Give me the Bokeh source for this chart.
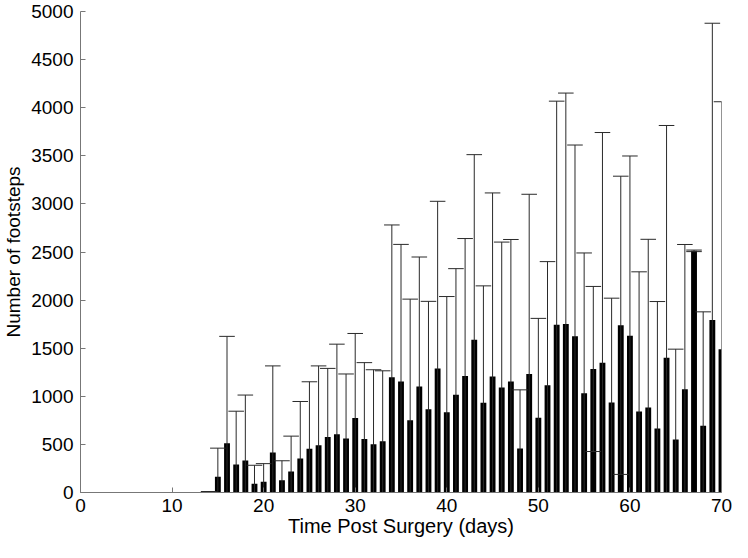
from bokeh.plotting import figure
from bokeh.models import ColumnDataSource, FixedTicker, Range1d
from bokeh.embed import file_html
from bokeh.resources import INLINE

# ---- data ----
days = list(range(14, 71))
mean_steps = [10, 165, 512, 290, 333, 91, 111, 417, 128, 219,
              354, 455, 492, 576, 606, 562, 774, 555, 502, 533,
              1199, 1155, 751, 1101, 865, 1290, 835, 1017, 1212, 1589,
              933, 1205, 1091, 1155, 458, 1232, 778, 1114, 1745, 1751,
              1623, 1033, 1284, 1348, 935, 1738, 1629, 843, 884, 665,
              1400, 550, 1074, 2512, 694, 1792, 1490]
sd_steps = [0, 296, 1111, 555, 680, 192, 189, 899, 202, 367,
            592, 696, 824, 714, 936, 670, 879, 795, 774, 732,
            1582, 1424, 1259, 1347, 1122, 1737, 1202, 1310, 1428, 1923,
            1215, 1909, 1512, 1475, 609, 1868, 1032, 1286, 2323, 2401,
            1989, 1457, 858, 2394, 1085, 1550, 1869, 1451, 1748, 1320,
            2415, 940, 1504, 8, 1184, 3086, 2572]
x_ticks = [0, 10, 20, 30, 40, 50, 60, 70]
y_ticks = [0, 500, 1000, 1500, 2000, 2500, 3000, 3500, 4000, 4500, 5000]
x_title = "Time Post Surgery (days)"
y_title = "Number of footsteps"

cap_half = 0.85
upper = [m + s for m, s in zip(mean_steps, sd_steps)]
lower = [m - s for m, s in zip(mean_steps, sd_steps)]
src = ColumnDataSource(dict(
    day=days, mean=mean_steps, upper=upper, lower=lower,
    cap_l=[d - cap_half for d in days], cap_r=[d + cap_half for d in days],
))

FONT = "Liberation Sans"

p = figure(width=732, height=542, x_range=Range1d(0, 70), y_range=Range1d(0, 5000),
           output_backend="svg", toolbar_location=None,
           min_border_left=79, min_border_right=11, min_border_top=11, min_border_bottom=50)
p.outline_line_color = None
p.xgrid.visible = False
p.ygrid.visible = False
p.background_fill_color = "white"

p.vbar(x="day", top="mean", bottom=0, width=0.64, source=src,
       fill_color="black", line_color=None)

ecol = "#2a2a2a"
p.segment(x0="day", y0="lower", x1="day", y1="upper", source=src, line_color=ecol, line_width=1)
p.segment(x0="cap_l", y0="upper", x1="cap_r", y1="upper", source=src, line_color=ecol, line_width=1)
p.segment(x0="cap_l", y0="lower", x1="cap_r", y1="lower", source=src, line_color=ecol, line_width=1)

for ax in (p.xaxis[0], p.yaxis[0]):
    ax.axis_line_color = "#777777"
    ax.major_tick_line_color = "#777777"
    ax.major_tick_in = 5
    ax.major_tick_out = 0
    ax.minor_tick_in = 0
    ax.minor_tick_out = 0
    ax.major_label_text_font = FONT
    ax.major_label_text_font_size = "19px"
    ax.major_label_text_color = "black"
    ax.axis_label_text_font = FONT
    ax.axis_label_text_font_style = "normal"
    ax.axis_label_text_color = "black"
p.xaxis.ticker = FixedTicker(ticks=x_ticks)
p.yaxis.ticker = FixedTicker(ticks=y_ticks)
p.xaxis.major_label_standoff = 6
p.yaxis.major_label_standoff = 7
p.xaxis.axis_label = x_title
p.xaxis.axis_label_text_font_size = "20px"
p.xaxis.axis_label_standoff = 0
p.yaxis.axis_label = y_title
p.yaxis.axis_label_text_font_size = "19px"
p.yaxis.axis_label_standoff = 4

open("out.html", "w").write(file_html(p, INLINE))
